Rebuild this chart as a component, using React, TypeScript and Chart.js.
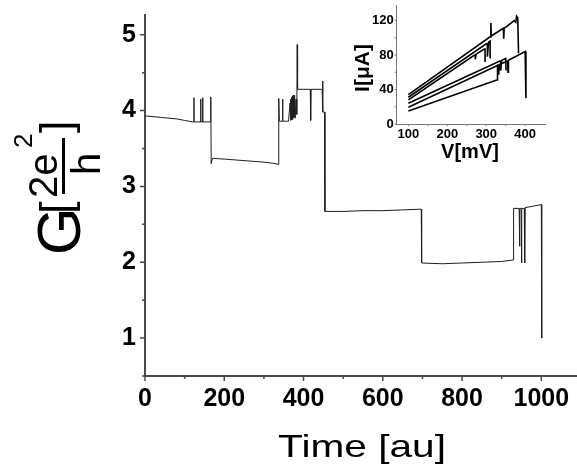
import { useEffect, useRef } from "react";
import { Chart, registerables } from "chart.js";

Chart.register(...registerables);

const FONT = '"Liberation Sans", Arial, Helvetica, sans-serif';

// Conductance trace G(t), in units of 2e²/h
const timeAu = [
  0, 40, 80, 100, 120, 123, 123.5, 124, 140, 140.5, 141, 145, 145.5, 146, 165, 166, 167,
  170, 200, 250, 300, 330, 336, 337, 338, 339, 346, 347, 348, 362, 366, 367, 368, 369,
  370, 371, 372, 373, 374, 375, 376, 377, 378, 379, 381, 383, 384, 385, 417, 418, 419,
  447, 448, 449, 453, 454, 500, 550, 600, 650, 697, 698, 750, 800, 850, 900, 929, 930,
  944, 945, 946, 949, 950, 951, 957, 958, 959, 980, 1000, 1001,
];
const conductance = [
  3.93, 3.91, 3.89, 3.87, 3.85, 3.85, 4.17, 3.85, 3.85, 4.15, 3.85, 3.85, 4.17, 3.85, 3.85, 4.18, 3.3,
  3.37, 3.36, 3.34, 3.32, 3.3, 3.29, 3.86, 4.16, 3.86, 3.86, 4.15, 3.86, 3.86, 4.1, 3.87, 4.15, 3.88,
  4.18, 3.88, 4.19, 3.9, 4.2, 3.9, 4.2, 3.92, 4.18, 3.9, 4.15, 3.95, 4.87, 4.28, 4.28, 3.87, 4.28,
  4.28, 4.39, 3.98, 3.98, 2.67, 2.67, 2.68, 2.68, 2.69, 2.7, 1.99, 1.98, 1.99, 2.0, 2.01, 2.03, 2.71,
  2.71, 2.21, 2.71, 2.71, 1.99, 2.71, 2.71, 1.99, 2.72, 2.74, 2.76, 1.0,
];

const timeMajor = [0, 200, 400, 600, 800, 1000];
const timeMinor = [100, 300, 500, 700, 900];
const gMajor = [1, 2, 3, 4, 5];
const gMinor = [0.5, 1.5, 2.5, 3.5, 4.5];

// I–V sweeps shown in the inset (V in mV, I in µA)
const sweepAV = [100, 310, 312, 312, 313, 344, 345, 346, 372, 376, 378, 381, 383];
const sweepAI = [34, 101, 101, 117, 102, 111, 99, 111, 120, 118, 125, 123, 82];
const sweepBV = [100, 300, 303, 303, 306, 310, 310];
const sweepBI = [31, 93, 93, 78, 95, 96, 76];
const sweepCV = [100, 270, 272, 272, 274, 295, 297, 297];
const sweepCI = [28, 80, 80, 75, 81, 87, 87, 72];
const sweepDV = [100, 335, 337, 337, 340, 350, 351];
const sweepDI = [24, 73, 73, 62, 74, 76, 62];
const sweepEV = [100, 330, 332, 332, 334, 355, 356, 357, 400, 402, 402];
const sweepEI = [19.5, 68, 68, 57, 69, 73, 60, 74, 84, 84, 30];
const sweepFV = [100, 327, 329, 329];
const sweepFI = [15, 51, 51, 69];

const vMajor = [100, 200, 300, 400];
const vMinor = [150, 250, 350];
const iMajor = [0, 40, 80, 120];
const iMinor = [20, 60, 100];

const pts = (xs: number[], ys: number[]) => xs.map((x, i) => ({ x, y: ys[i] }));

type TickSpec = {
  xMajor: number[]; xMinor: number[]; yMajor: number[]; yMinor: number[];
  majorLen: number; minorLen: number; color: string; width: number;
};

// Draws major/minor tick marks outside the axes
const tickMarks = (spec: TickSpec) => ({
  id: "tickMarks",
  afterDraw(chart: any) {
    const { ctx, chartArea, scales } = chart;
    ctx.save();
    ctx.strokeStyle = spec.color;
    ctx.lineWidth = spec.width;
    ctx.beginPath();
    const xs = scales.x, ys = scales.y;
    const xt = (v: number, len: number) => {
      const p = xs.getPixelForValue(v);
      ctx.moveTo(p, chartArea.bottom);
      ctx.lineTo(p, chartArea.bottom + len);
    };
    const yt = (v: number, len: number) => {
      const p = ys.getPixelForValue(v);
      ctx.moveTo(chartArea.left, p);
      ctx.lineTo(chartArea.left - len, p);
    };
    spec.xMajor.forEach((v) => xt(v, spec.majorLen));
    spec.xMinor.forEach((v) => xt(v, spec.minorLen));
    spec.yMajor.forEach((v) => yt(v, spec.majorLen));
    spec.yMinor.forEach((v) => yt(v, spec.minorLen));
    ctx.stroke();
    ctx.restore();
  },
});

// Axis titles of the main plot: G[2e²/h] and Time [au]
const mainTitles = {
  id: "mainTitles",
  afterDraw(chart: any) {
    const ctx = chart.ctx as CanvasRenderingContext2D;
    ctx.save();
    ctx.fillStyle = "#000";
    ctx.textAlign = "left";
    ctx.textBaseline = "alphabetic";
    ctx.translate(80, 253);
    ctx.rotate(-Math.PI / 2);
    ctx.font = `61px ${FONT}`;
    ctx.fillText("G", -2, 0);
    ctx.font = `45px ${FONT}`;
    ctx.fillText("[", 39, -9.5);
    ctx.font = `40px ${FONT}`;
    ctx.fillText("2e", 55, -23);
    ctx.fillRect(59, -18, 56, 3);
    ctx.fillText("h", 78, 20);
    ctx.font = `26px ${FONT}`;
    ctx.fillText("2", 105, -48);
    ctx.font = `45px ${FONT}`;
    ctx.fillText("]", 120, -9.5);
    ctx.restore();

    ctx.save();
    ctx.fillStyle = "#000";
    ctx.textAlign = "center";
    ctx.textBaseline = "alphabetic";
    ctx.translate(362, 457);
    ctx.scale(1.27, 1);
    ctx.font = `32px ${FONT}`;
    ctx.fillText("Time [au]", 0, 0);
    ctx.restore();
  },
};

const insetTitles = {
  id: "insetTitles",
  afterDraw(chart: any) {
    const ctx = chart.ctx as CanvasRenderingContext2D;
    ctx.save();
    ctx.fillStyle = "#000";
    ctx.textAlign = "center";
    ctx.textBaseline = "middle";
    ctx.font = `bold 20px ${FONT}`;
    ctx.fillText("V[mV]", 125, 152);
    ctx.translate(18, 68);
    ctx.rotate(-Math.PI / 2);
    ctx.font = `bold 21px ${FONT}`;
    ctx.fillText("I[\u03bcA]", 0, 0);
    ctx.restore();
  },
};

// Fixes the box size of an axis and drops the label-overflow padding
const fixBox = (w: number | null, h: number | null) => (s: any) => {
  if (w !== null) s.width = w;
  if (h !== null) s.height = h;
  s.paddingTop = 0;
  s.paddingBottom = 0;
  s.paddingLeft = 0;
  s.paddingRight = 0;
};

const plainLabel = (v: number | string) => String(v);

export default function App() {
  const mainRef = useRef<HTMLCanvasElement>(null);
  const insetRef = useRef<HTMLCanvasElement>(null);

  useEffect(() => {
    const tickFont = { family: FONT, size: 25, weight: "bold" as const };
    const main = new Chart(mainRef.current!, {
      type: "scatter",
      data: {
        datasets: [
          {
            data: pts(timeAu, conductance),
            showLine: true,
            borderColor: "#1e1e1e",
            borderWidth: 1,
            pointRadius: 0,
          },
        ],
      },
      options: {
        animation: false,
        responsive: false,
        events: [],
        layout: { padding: { top: 15, right: 0, left: 0, bottom: 0 } },
        plugins: { legend: { display: false }, tooltip: { enabled: false } },
        scales: {
          x: {
            type: "linear",
            min: 0,
            max: 1090,
            grid: { display: false, drawTicks: false },
            border: { display: true, color: "#4a4a4a", width: 2 },
            ticks: { color: "#000", font: tickFont, padding: 8, maxRotation: 0, autoSkip: false, callback: plainLabel },
            afterBuildTicks: (s: any) => { s.ticks = timeMajor.map((value) => ({ value })); },
            afterFit: fixBox(null, 100),
          },
          y: {
            type: "linear",
            min: 0.5,
            max: 5.26,
            grid: { display: false, drawTicks: false },
            border: { display: true, color: "#4a4a4a", width: 2 },
            ticks: { color: "#000", font: tickFont, padding: 9, autoSkip: false, callback: plainLabel },
            afterBuildTicks: (s: any) => { s.ticks = gMajor.map((value) => ({ value })); },
            afterFit: fixBox(145, null),
          },
        },
      },
      plugins: [
        tickMarks({ xMajor: timeMajor, xMinor: timeMinor, yMajor: gMajor, yMinor: gMinor, majorLen: 5, minorLen: 3, color: "#4a4a4a", width: 1.5 }),
        mainTitles,
      ],
    });

    const insetFont = { family: FONT, size: 13, weight: "bold" as const };
    const sweeps = [
      pts(sweepAV, sweepAI), pts(sweepBV, sweepBI), pts(sweepCV, sweepCI),
      pts(sweepDV, sweepDI), pts(sweepEV, sweepEI), pts(sweepFV, sweepFI),
    ];
    const inset = new Chart(insetRef.current!, {
      type: "scatter",
      data: {
        datasets: sweeps.map((d) => ({
          data: d,
          showLine: true,
          borderColor: "#000",
          borderWidth: 1.6,
          pointRadius: 0,
        })),
      },
      options: {
        animation: false,
        responsive: false,
        events: [],
        layout: { padding: { top: 5, right: 32, left: 0, bottom: 0 } },
        plugins: { legend: { display: false }, tooltip: { enabled: false } },
        scales: {
          x: {
            type: "linear",
            min: 70,
            max: 451,
            grid: { display: false, drawTicks: false },
            border: { display: true, color: "#777", width: 1 },
            ticks: { color: "#000", font: insetFont, padding: 3, maxRotation: 0, autoSkip: false, callback: plainLabel },
            afterBuildTicks: (s: any) => { s.ticks = vMajor.map((value) => ({ value })); },
            afterFit: fixBox(null, 46),
          },
          y: {
            type: "linear",
            min: 0,
            max: 138,
            grid: { display: false, drawTicks: false },
            border: { display: true, color: "#777", width: 1 },
            ticks: { color: "#000", font: insetFont, padding: 3, autoSkip: false, callback: plainLabel },
            afterBuildTicks: (s: any) => { s.ticks = iMajor.map((value) => ({ value })); },
            afterFit: fixBox(51.7, null),
          },
        },
      },
      plugins: [
        tickMarks({ xMajor: vMajor, xMinor: vMinor, yMajor: iMajor, yMinor: iMinor, majorLen: 2, minorLen: 2, color: "#777", width: 1 }),
        insetTitles,
      ],
    });

    return () => {
      main.destroy();
      inset.destroy();
    };
  }, []);

  return (
    <div style={{ position: "fixed", left: 0, top: 0, width: 577, height: 476, background: "#fff" }}>
      <canvas ref={mainRef} width={577} height={476} style={{ position: "absolute", left: 0, top: 0, width: 577, height: 476 }} />
      <canvas ref={insetRef} width={232} height={170} style={{ position: "absolute", left: 345, top: 0, width: 232, height: 170 }} />
    </div>
  );
}
